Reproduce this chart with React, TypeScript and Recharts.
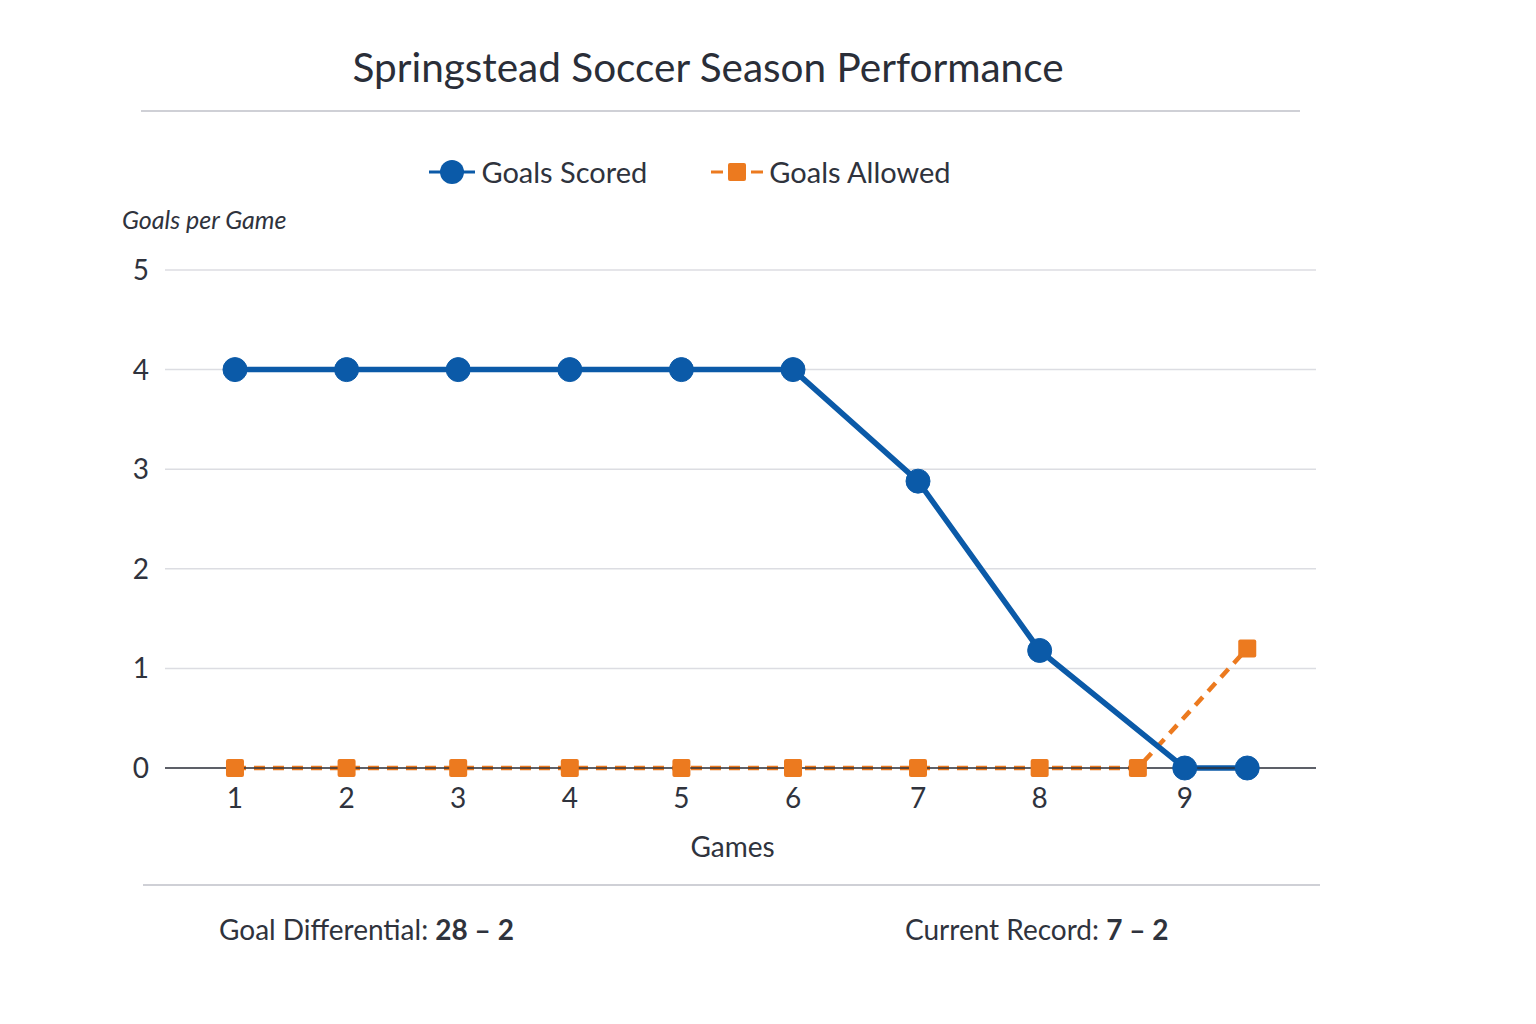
import React from 'react'
import {
  LineChart,
  Line,
  XAxis,
  YAxis,
  CartesianGrid,
} from 'recharts'

// game positions on the x scale
const gameTicks = [1, 2, 3, 4, 5, 6, 7.12, 8.21, 9.51]
const gameLabels = ['1', '2', '3', '4', '5', '6', '7', '8', '9']

const scoredX = [1, 2, 3, 4, 5, 6, 7.12, 8.21, 9.51, 10.07]
const scoredGoals = [4, 4, 4, 4, 4, 4, 2.88, 1.18, 0, 0]

const allowedX = [1, 2, 3, 4, 5, 6, 7.12, 8.21, 9.09, 10.07]
const allowedGoals = [0, 0, 0, 0, 0, 0, 0, 0, 0, 1.2]

const yTicks = [0, 1, 2, 3, 4, 5]

const BLUE = '#0b5aa8'
const ORANGE = '#ec7a1f'
const TEXT = '#2f333d'
const FONT = 'Lato, "Open Sans", sans-serif'

const scoredData = scoredX.map((x, i) => ({ x, goals: scoredGoals[i] }))
const allowedData = allowedX.map((x, i) => ({ x, goals: allowedGoals[i] }))

function SquareDot(props: any) {
  const { cx, cy } = props
  if (cx == null || cy == null) return null
  return <rect x={cx - 9} y={cy - 9} width={18} height={18} rx={2} fill={ORANGE} />
}

function LegendContent() {
  return (
    <div
      style={{
        position: 'absolute',
        top: 154,
        left: 0,
        width: 1380,
        display: 'flex',
        justifyContent: 'center',
        alignItems: 'center',
        gap: 64,
        fontSize: 29,
        color: TEXT,
      }}
    >
      <span style={{ display: 'flex', alignItems: 'center', gap: 6 }}>
        <svg width={46} height={28}>
          <line x1={0} y1={14} x2={46} y2={14} stroke={BLUE} strokeWidth={3} />
          <circle cx={23} cy={14} r={12} fill={BLUE} />
        </svg>
        Goals Scored
      </span>
      <span style={{ display: 'flex', alignItems: 'center', gap: 6 }}>
        <svg width={52} height={28}>
          <line x1={0} y1={14} x2={12} y2={14} stroke={ORANGE} strokeWidth={3} />
          <rect x={17} y={5} width={18} height={18} rx={2} fill={ORANGE} />
          <line x1={40} y1={14} x2={52} y2={14} stroke={ORANGE} strokeWidth={3} />
        </svg>
        Goals Allowed
      </span>
    </div>
  )
}

export default function App() {
  return (
    <div
      style={{
        position: 'absolute',
        left: 0,
        top: 0,
        width: 1536,
        height: 1024,
        background: '#fff',
        fontFamily: FONT,
        color: TEXT,
      }}
    >
      <LineChart
        width={1536}
        height={1024}
        margin={{ top: 270, right: 220, left: 105, bottom: 226 }}
        style={{ position: 'absolute', left: 0, top: 0 }}
      >
        <CartesianGrid horizontal vertical={false} stroke="#dcdde2" strokeWidth={1.5} />
        <XAxis
          type="number"
          dataKey="x"
          domain={[0.373, 10.686]}
          ticks={gameTicks}
          allowDataOverflow
          height={30}
          tickFormatter={(v: number) => gameLabels[gameTicks.indexOf(v)] ?? ''}
          tick={{ fontSize: 28, fill: TEXT, fontFamily: FONT }}
          tickLine={false}
          tickMargin={14}
          axisLine={{ stroke: '#2f333d', strokeWidth: 1.5 }}
          label={{
            value: 'Games',
            position: 'insideBottom',
            offset: -59,
            fontSize: 28,
            fill: TEXT,
            fontFamily: FONT,
            dx: -8,
          }}
        />
        <YAxis
          type="number"
          domain={[0, 5]}
          ticks={yTicks}
          width={60}
          tick={{ fontSize: 28, fill: TEXT, fontFamily: FONT }}
          tickLine={false}
          tickMargin={10}
          axisLine={false}
        />
        <Line
          data={allowedData}
          dataKey="goals"
          name="Goals Allowed"
          stroke={ORANGE}
          strokeWidth={4.5}
          strokeDasharray="11 8"
          dot={<SquareDot />}
          activeDot={false}
          isAnimationActive={false}
        />
        <Line
          data={scoredData}
          dataKey="goals"
          name="Goals Scored"
          stroke={BLUE}
          strokeWidth={5.5}
          dot={{ r: 12, fill: BLUE, stroke: BLUE, strokeWidth: 1 }}
          activeDot={false}
          isAnimationActive={false}
        />
      </LineChart>

      <LegendContent />

      <div
        style={{
          position: 'absolute',
          top: 42,
          left: 0,
          width: 1416,
          textAlign: 'center',
          fontSize: 40.5,
          color: '#2a2e38',
        }}
      >
        Springstead Soccer Season Performance
      </div>
      <div style={{ position: 'absolute', top: 110, left: 141, width: 1159, height: 2, background: '#cfd0d6' }} />

      <div
        style={{
          position: 'absolute',
          top: 204,
          left: 122,
          fontSize: 25,
          fontStyle: 'italic',
          color: TEXT,
        }}
      >
        Goals per Game
      </div>

      <div style={{ position: 'absolute', top: 884, left: 143, width: 1177, height: 2, background: '#cfd0d6' }} />
      <div style={{ position: 'absolute', top: 912, left: 219, fontSize: 28 }}>
        Goal Differential: <b>28 – 2</b>
      </div>
      <div style={{ position: 'absolute', top: 912, left: 905, fontSize: 28 }}>
        Current Record: <b>7 – 2</b>
      </div>
    </div>
  )
}
